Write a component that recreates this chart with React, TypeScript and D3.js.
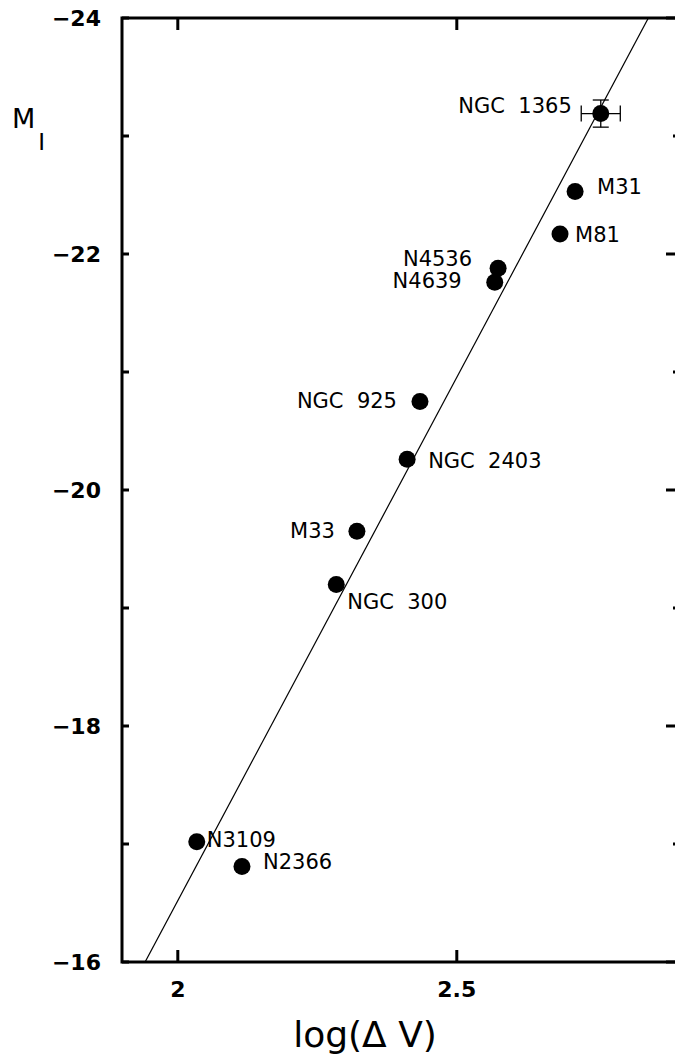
import * as d3 from 'd3'

// Tully-Fisher style relation: I-band absolute magnitude vs log line width
const GALAXIES = ['NGC  1365', 'M31', 'M81', 'N4536', 'N4639', 'NGC  925', 'NGC  2403', 'M33', 'NGC  300', 'N3109', 'N2366']
const LOG_DV   = [2.758, 2.712, 2.685, 2.574, 2.568, 2.434, 2.411, 2.321, 2.284, 2.034, 2.115]
const MAG_I    = [-23.19, -22.53, -22.17, -21.88, -21.76, -20.75, -20.26, -19.65, -19.20, -17.02, -16.81]
const ERR_LOGDV = [0.035, 0, 0, 0, 0, 0, 0, 0, 0, 0, 0]
const ERR_MAG   = [0.115, 0, 0, 0, 0, 0, 0, 0, 0, 0, 0]

const X_TICKS  = [2, 2.5]
const Y_MAJOR  = [-24, -22, -20, -18, -16]
const Y_MINOR  = [-23, -21, -19, -17]
const FIT_SLOPE     = -8.87
const FIT_INTERCEPT = 1.22

// label placement: anchor side, offset from the dot (px)
const LABEL_POS: Record<string, [string, number, number]> = {
  'NGC  1365': ['end', -29, -1],
  'M31':       ['start', 22, 3],
  'M81':       ['start', 15, 8],
  'N4536':     ['end', -26, -2],
  'N4639':     ['end', -33, 6],
  'NGC  925':  ['end', -23, 6],
  'NGC  2403': ['start', 21, 9],
  'M33':       ['end', -22, 7],
  'NGC  300':  ['start', 11, 25],
  'N3109':     ['start', 10, 5],
  'N2366':     ['start', 21, 3],
}

const W = 675
const H = 1058
const BOX = { left: 122, top: 18, right: 680, bottom: 962 }
const FONT = 'DejaVu Sans, sans-serif'

export default function App() {
  const x = d3.scaleLinear().domain([1.9, 2.9]).range([BOX.left, BOX.right])
  const y = d3.scaleLinear().domain([-24, -16]).range([BOX.top, BOX.bottom])

  const fitPts: [number, number][] = x.domain().map(v => [v, FIT_INTERCEPT + FIT_SLOPE * v])
  const fitPath = d3.line<[number, number]>().x(d => x(d[0])).y(d => y(d[1]))(fitPts) || ''

  const cap = 8

  return (
    <svg width={W} height={H} style={{ position: 'absolute', left: 0, top: 0, background: '#fff' }}>
      <defs>
        <clipPath id="box-clip">
          <rect x={BOX.left} y={BOX.top} width={BOX.right - BOX.left} height={BOX.bottom - BOX.top}/>
        </clipPath>
      </defs>

      {/* Fit line */}
      <path d={fitPath} fill="none" stroke="#000" strokeWidth={1.2} clipPath="url(#box-clip)"/>

      {/* Error bars */}
      {GALAXIES.map((g, i) => {
        const cx = x(LOG_DV[i]), cy = y(MAG_I[i])
        const ex = ERR_LOGDV[i], ey = ERR_MAG[i]
        return (
          <g key={'e' + g} stroke="#000" strokeWidth={1.3}>
            {ex > 0 && (
              <>
                <line x1={x(LOG_DV[i] - ex)} y1={cy} x2={x(LOG_DV[i] + ex)} y2={cy}/>
                <line x1={x(LOG_DV[i] - ex)} y1={cy - cap} x2={x(LOG_DV[i] - ex)} y2={cy + cap}/>
                <line x1={x(LOG_DV[i] + ex)} y1={cy - cap} x2={x(LOG_DV[i] + ex)} y2={cy + cap}/>
              </>
            )}
            {ey > 0 && (
              <>
                <line x1={cx} y1={y(MAG_I[i] - ey)} x2={cx} y2={y(MAG_I[i] + ey)}/>
                <line x1={cx - cap} y1={y(MAG_I[i] - ey)} x2={cx + cap} y2={y(MAG_I[i] - ey)}/>
                <line x1={cx - cap} y1={y(MAG_I[i] + ey)} x2={cx + cap} y2={y(MAG_I[i] + ey)}/>
              </>
            )}
          </g>
        )
      })}

      {/* Points + labels */}
      {GALAXIES.map((g, i) => {
        const cx = x(LOG_DV[i]), cy = y(MAG_I[i])
        const [anchor, dx, dy] = LABEL_POS[g]
        return (
          <g key={g}>
            <circle cx={cx} cy={cy} r={8.5} fill="#000"/>
            <text x={cx + dx} y={cy + dy} textAnchor={anchor} fontFamily={FONT} fontSize={21}
              style={{ whiteSpace: 'pre' }} fill="#000">{g}</text>
          </g>
        )
      })}

      {/* Frame */}
      <rect x={BOX.left} y={BOX.top} width={BOX.right - BOX.left} height={BOX.bottom - BOX.top}
        fill="none" stroke="#000" strokeWidth={3}/>

      {/* X ticks */}
      {X_TICKS.map(t => (
        <g key={'x' + t} stroke="#000" strokeWidth={3}>
          <line x1={x(t)} y1={BOX.bottom} x2={x(t)} y2={BOX.bottom - 12}/>
          <line x1={x(t)} y1={BOX.top} x2={x(t)} y2={BOX.top + 12}/>
        </g>
      ))}
      {X_TICKS.map(t => (
        <text key={'xl' + t} x={x(t)} y={997} textAnchor="middle" fontFamily={FONT}
          fontWeight="bold" fontSize={22}>{t}</text>
      ))}

      {/* Y ticks */}
      {Y_MAJOR.map(t => (
        <g key={'y' + t} stroke="#000" strokeWidth={3}>
          <line x1={BOX.left} y1={y(t)} x2={BOX.left + 7} y2={y(t)}/>
          <line x1={BOX.right} y1={y(t)} x2={BOX.right - 14} y2={y(t)}/>
        </g>
      ))}
      {Y_MINOR.map(t => (
        <g key={'ym' + t} stroke="#000" strokeWidth={3}>
          <line x1={BOX.left} y1={y(t)} x2={BOX.left + 7} y2={y(t)}/>
          <line x1={BOX.right} y1={y(t)} x2={BOX.right - 7} y2={y(t)}/>
        </g>
      ))}
      {Y_MAJOR.map(t => (
        <text key={'yl' + t} x={101} y={y(t)} dy="0.36em" textAnchor="end" fontFamily={FONT}
          fontWeight="bold" fontSize={22}>{'\u2212' + Math.abs(t)}</text>
      ))}

      {/* Axis titles */}
      <text x={365} y={1047} textAnchor="middle" fontFamily={FONT} fontSize={36}
        style={{ whiteSpace: 'pre' }}>log(Δ V)</text>
      <text x={12} y={128} fontFamily={FONT} fontSize={27}>
        M<tspan fontSize={23} dx={3} dy={22}>I</tspan>
      </text>
    </svg>
  )
}
